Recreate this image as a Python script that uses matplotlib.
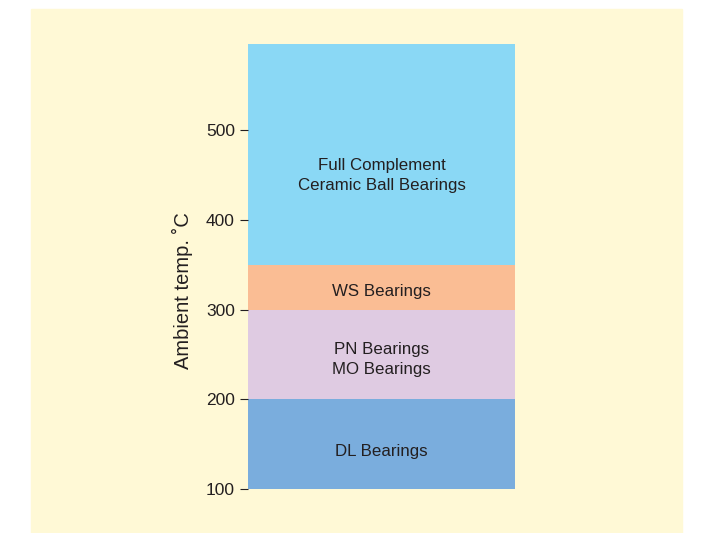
import matplotlib.pyplot as plt
from matplotlib.patches import Rectangle

plt.rcParams['font.family'] = ['Liberation Sans', 'DejaVu Sans']

# bearing ranges (ambient temperature, deg C)
labels = ["DL Bearings", "PN Bearings\nMO Bearings", "WS Bearings",
          "Full Complement\nCeramic Ball Bearings"]
lows = [100, 200, 300, 350]
highs = [200, 300, 350, 596]
text_y = [142, 244, 320, 449]
colors = ["#7aaddd", "#dfcbe2", "#fabd94", "#8ad8f5"]
yticks = [100, 200, 300, 400, 500]

fig = plt.figure(figsize=(7.22, 5.33), dpi=100)
# cream panel behind everything
fig.patches.append(Rectangle((31 / 722, 0), 651 / 722, 524 / 533,
                             transform=fig.transFigure, color="#fff9d6", zorder=-10))

ax = fig.add_axes([248 / 722, 44 / 533, 267 / 722, 445 / 533])
ax.set_facecolor("none")
for lo, hi, c, lab, ty in zip(lows, highs, colors, labels, text_y):
    ax.bar(0, hi - lo, bottom=lo, width=1, color=c, linewidth=0)
    ax.text(0, ty, lab, ha="center", va="center", fontsize=12.2, color="#231f20",
            linespacing=1.4)

ax.set_xlim(-0.5, 0.5)
ax.set_ylim(100, 596)
ax.set_xticks([])
ax.set_yticks(yticks)
ax.tick_params(axis="y", length=6, width=0.8, color="#231f20", labelsize=12.5,
               labelcolor="#231f20", pad=3.5)
for s in ax.spines.values():
    s.set_visible(False)
ax.set_ylabel("Ambient temp. ˚C", fontsize=14.5, color="#231f20")
ax.yaxis.set_label_coords(-0.205, 0.445)

fig.savefig("out.png", dpi=100)
